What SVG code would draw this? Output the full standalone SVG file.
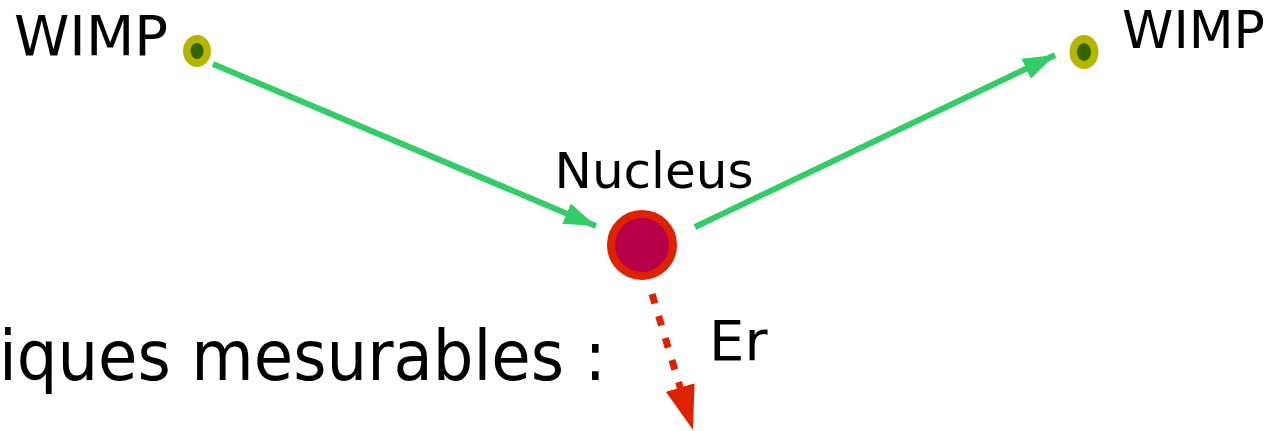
<svg xmlns="http://www.w3.org/2000/svg" width="1280" height="431" viewBox="0 0 1280 431">
<style>
.lbl{font-family:"DejaVu Sans","Liberation Sans",sans-serif;fill:#000}
.big{font-family:"DejaVu Sans Condensed","DejaVu Sans",sans-serif;fill:#000}
.green{stroke:#33CC66;stroke-width:6;fill:none}
.red{stroke:#DD2200;stroke-width:7;fill:none;stroke-dasharray:10 13}
</style>
<defs>
<marker id="ag" markerUnits="userSpaceOnUse" markerWidth="34" markerHeight="24" refX="32" refY="12" orient="auto">
<path d="M0,1 L32,12 L0,23 Z" fill="#33CC66"/>
</marker>
<marker id="ar" markerUnits="userSpaceOnUse" markerWidth="46" markerHeight="32" refX="1" refY="16" orient="auto">
<path d="M0,1 L44,16 L0,31 Z" fill="#DD2200"/>
</marker>
</defs>
<rect width="1280" height="431" fill="#fff"/>
<g id="connectors">
<line class="green" x1="213" y1="64" x2="596" y2="226" marker-end="url(#ag)"/>
<line class="green" x1="695" y1="227" x2="1055" y2="55" marker-end="url(#ag)"/>
<line class="red" x1="652" y1="294" x2="680.5" y2="388.5" marker-end="url(#ar)"/>
</g>
<g id="wimp-left">
<ellipse cx="197" cy="51" rx="14" ry="16" fill="#B5B500"/>
<ellipse cx="197" cy="51" rx="6.5" ry="8" fill="#336600"/>
<text class="lbl" x="14" y="55" font-size="56">WIMP</text>
</g>
<g id="wimp-right">
<ellipse cx="1084" cy="52" rx="14.5" ry="17" fill="#B5B500"/>
<ellipse cx="1084" cy="52" rx="7" ry="9" fill="#336600"/>
<text class="lbl" x="1122" y="48" font-size="52">WIMP</text>
</g>
<g id="nucleus">
<circle cx="642" cy="245" r="31" fill="#B8004A" stroke="#DD2200" stroke-width="8"/>
<text class="lbl" x="654" y="188" font-size="50" text-anchor="middle">Nucleus</text>
</g>
<g id="er">
<text class="lbl" x="709" y="360" font-size="56">Er</text>
</g>
<g id="caption">
<text class="big" x="-1" y="380" font-size="69" textLength="607" lengthAdjust="spacingAndGlyphs">iques mesurables :</text>
</g>
</svg>
